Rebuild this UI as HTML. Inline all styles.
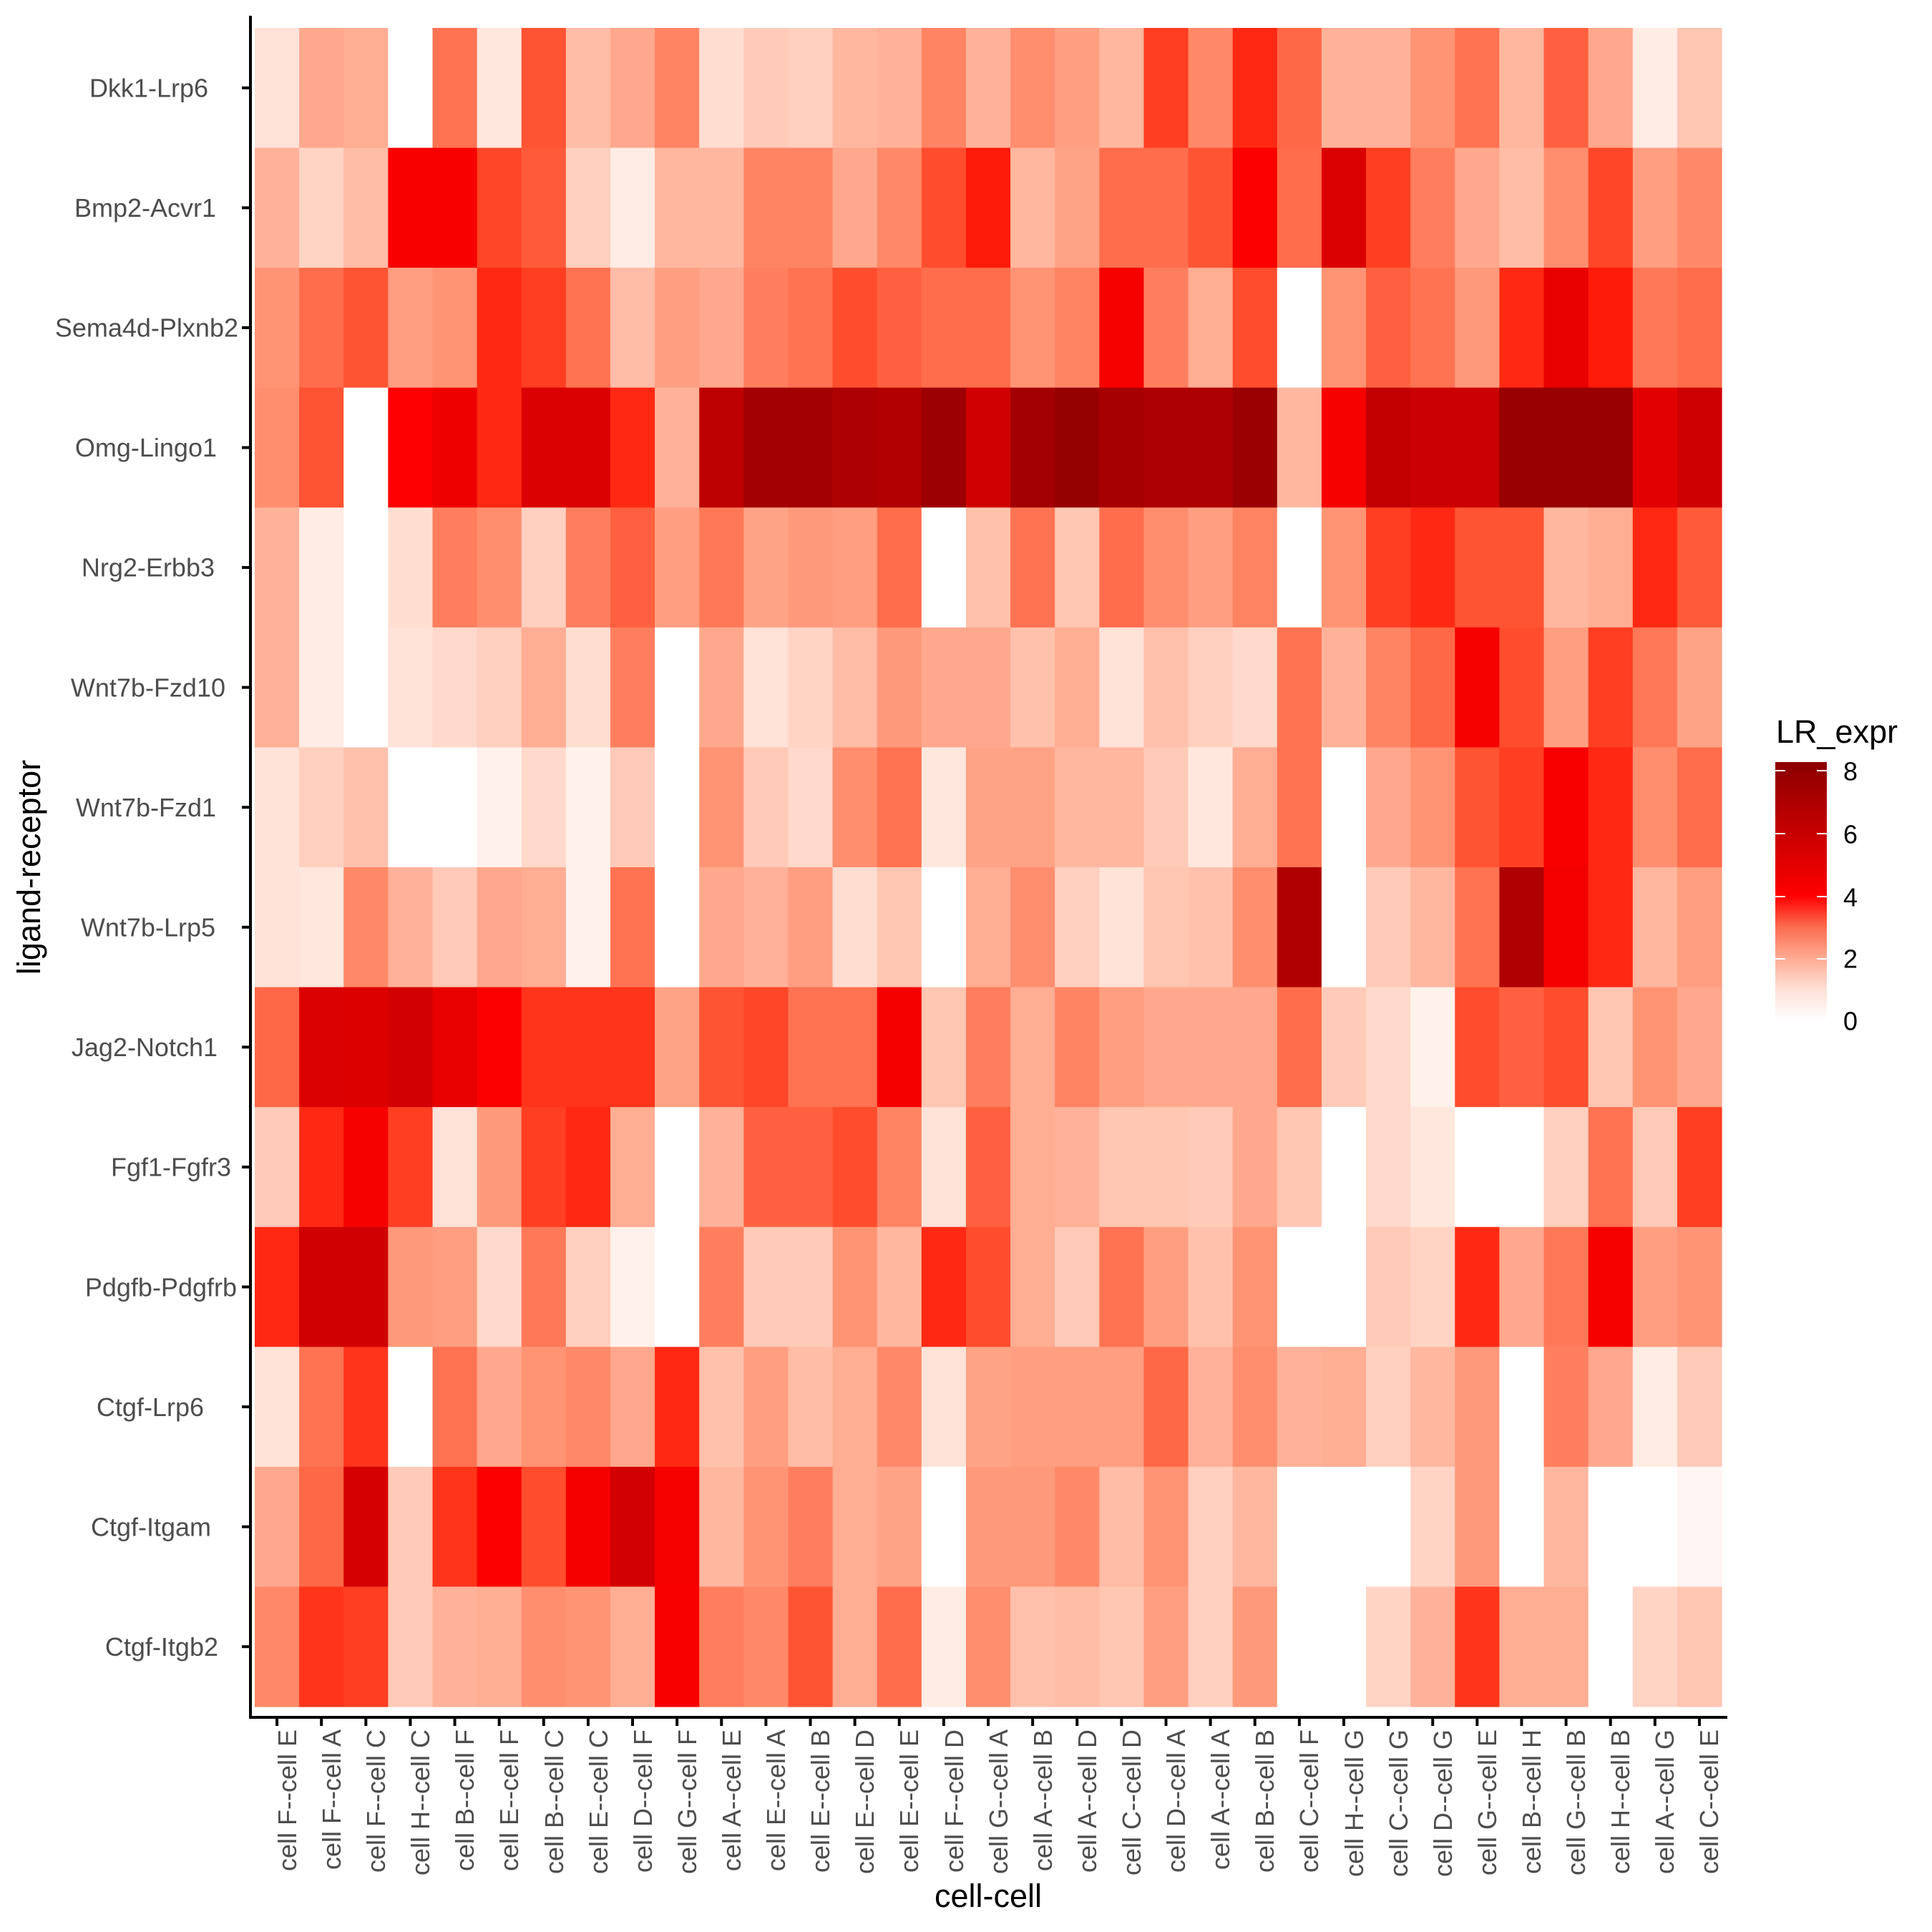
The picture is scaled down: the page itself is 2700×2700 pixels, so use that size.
<!DOCTYPE html>
<html><head><meta charset="utf-8">
<style>
html,body{margin:0;padding:0;background:#fff;}
svg{display:block;}
text{font-family:"Liberation Sans",Arial,sans-serif;}
.yl{font-size:36px;fill:#4d4d4d;text-anchor:end;dominant-baseline:central;}
.xl{font-size:36px;fill:#4d4d4d;text-anchor:end;}
</style></head><body>
<svg id="s" width="2700" height="2700" viewBox="0 0 2700 2700" xmlns="http://www.w3.org/2000/svg">
<defs>
<linearGradient id="lg" x1="0" y1="1" x2="0" y2="0">
<stop offset="0" stop-color="#ffffff"/>
<stop offset="0.12" stop-color="#fee0d6"/>
<stop offset="0.24" stop-color="#fdab92"/>
<stop offset="0.36" stop-color="#fc6d50"/>
<stop offset="0.482" stop-color="#ff0000"/>
<stop offset="0.74" stop-color="#c40000"/>
<stop offset="1" stop-color="#8b0000"/>
</linearGradient>
</defs>
<g id="tiles"></g>
<line x1="350" y1="22" x2="350" y2="2402" stroke="#000" stroke-width="4"/>
<line x1="348" y1="2400" x2="2414" y2="2400" stroke="#000" stroke-width="4"/>
<g id="ticks" stroke="#000" stroke-width="4"></g>
<text class="yl" x="291" y="122.8">Dkk1-Lrp6</text>
<text class="yl" x="302" y="290.4">Bmp2-Acvr1</text>
<text class="yl" x="333" y="458">Sema4d-Plxnb2</text>
<text class="yl" x="303" y="625.6">Omg-Lingo1</text>
<text class="yl" x="300" y="793.2">Nrg2-Erbb3</text>
<text class="yl" x="315" y="960.8">Wnt7b-Fzd10</text>
<text class="yl" x="302" y="1128.4">Wnt7b-Fzd1</text>
<text class="yl" x="301" y="1296">Wnt7b-Lrp5</text>
<text class="yl" x="304" y="1463.6">Jag2-Notch1</text>
<text class="yl" x="323" y="1631.2">Fgf1-Fgfr3</text>
<text class="yl" x="331" y="1798.8">Pdgfb-Pdgfrb</text>
<text class="yl" x="285" y="1966.4">Ctgf-Lrp6</text>
<text class="yl" x="295" y="2134">Ctgf-Itgam</text>
<text class="yl" x="305" y="2301.6">Ctgf-Itgb2</text>
<g id="xlabels">
<text class="xl" transform="translate(414,2417) rotate(-90)">cell F--cell E</text>
<text class="xl" transform="translate(476,2417) rotate(-90)">cell F--cell A</text>
<text class="xl" transform="translate(538,2417) rotate(-90)">cell F--cell C</text>
<text class="xl" transform="translate(600,2417) rotate(-90)">cell H--cell C</text>
<text class="xl" transform="translate(662,2417) rotate(-90)">cell B--cell F</text>
<text class="xl" transform="translate(724,2417) rotate(-90)">cell E--cell F</text>
<text class="xl" transform="translate(787,2417) rotate(-90)">cell B--cell C</text>
<text class="xl" transform="translate(849,2417) rotate(-90)">cell E--cell C</text>
<text class="xl" transform="translate(911,2417) rotate(-90)">cell D--cell F</text>
<text class="xl" transform="translate(973,2417) rotate(-90)">cell G--cell F</text>
<text class="xl" transform="translate(1035,2417) rotate(-90)">cell A--cell E</text>
<text class="xl" transform="translate(1097,2417) rotate(-90)">cell E--cell A</text>
<text class="xl" transform="translate(1159,2417) rotate(-90)">cell E--cell B</text>
<text class="xl" transform="translate(1221,2417) rotate(-90)">cell E--cell D</text>
<text class="xl" transform="translate(1283,2417) rotate(-90)">cell E--cell E</text>
<text class="xl" transform="translate(1346,2417) rotate(-90)">cell F--cell D</text>
<text class="xl" transform="translate(1408,2417) rotate(-90)">cell G--cell A</text>
<text class="xl" transform="translate(1470,2417) rotate(-90)">cell A--cell B</text>
<text class="xl" transform="translate(1532,2417) rotate(-90)">cell A--cell D</text>
<text class="xl" transform="translate(1594,2417) rotate(-90)">cell C--cell D</text>
<text class="xl" transform="translate(1656,2417) rotate(-90)">cell D--cell A</text>
<text class="xl" transform="translate(1718,2417) rotate(-90)">cell A--cell A</text>
<text class="xl" transform="translate(1780,2417) rotate(-90)">cell B--cell B</text>
<text class="xl" transform="translate(1842,2417) rotate(-90)">cell C--cell F</text>
<text class="xl" transform="translate(1905,2417) rotate(-90)">cell H--cell G</text>
<text class="xl" transform="translate(1967,2417) rotate(-90)">cell C--cell G</text>
<text class="xl" transform="translate(2029,2417) rotate(-90)">cell D--cell G</text>
<text class="xl" transform="translate(2091,2417) rotate(-90)">cell G--cell E</text>
<text class="xl" transform="translate(2153,2417) rotate(-90)">cell B--cell H</text>
<text class="xl" transform="translate(2215,2417) rotate(-90)">cell G--cell B</text>
<text class="xl" transform="translate(2277,2417) rotate(-90)">cell H--cell B</text>
<text class="xl" transform="translate(2339,2417) rotate(-90)">cell A--cell G</text>
<text class="xl" transform="translate(2401,2417) rotate(-90)">cell C--cell E</text>
</g>
<text x="1381" y="2665" font-size="45" text-anchor="middle" fill="#000">cell-cell</text>
<text transform="translate(56,1212) rotate(-90)" font-size="45" text-anchor="middle" fill="#000">ligand-receptor</text>
<text x="2482" y="1038" font-size="45" fill="#000">LR_expr</text>
<rect x="2481" y="1065" width="72" height="361" fill="url(#lg)"/>
<g stroke="#fff" stroke-width="2">
<line x1="2481" y1="1340" x2="2495" y2="1340"/><line x1="2539" y1="1340" x2="2553" y2="1340"/>
<line x1="2481" y1="1253" x2="2495" y2="1253"/><line x1="2539" y1="1253" x2="2553" y2="1253"/>
<line x1="2481" y1="1165" x2="2495" y2="1165"/><line x1="2539" y1="1165" x2="2553" y2="1165"/>
<line x1="2481" y1="1077" x2="2495" y2="1077"/><line x1="2539" y1="1077" x2="2553" y2="1077"/>
</g>
<g font-size="36" fill="#000" dominant-baseline="central">
<text x="2576" y="1078">8</text>
<text x="2576" y="1166">6</text>
<text x="2576" y="1254">4</text>
<text x="2576" y="1340">2</text>
<text x="2576" y="1427">0</text>
</g>
</svg>
<script>
var V=[
[0.6,1.8,1.7,0,2.8,0.5,3.3,1.4,1.8,2.5,0.7,1.1,1.0,1.5,1.6,2.5,1.6,2.3,2.0,1.5,3.6,2.4,3.8,3.0,1.6,1.6,2.2,2.8,1.5,3.1,1.8,0.4,1.2],
[1.6,0.9,1.4,4.2,4.2,3.5,3.2,1.0,0.4,1.5,1.5,2.5,2.5,1.8,2.4,3.4,3.9,1.5,1.9,2.9,2.9,3.3,4.1,2.9,5.3,3.6,2.6,1.8,1.4,2.3,3.5,2.0,2.4],
[2.2,2.9,3.3,2.0,2.2,3.8,3.6,2.8,1.4,2.0,1.8,2.6,2.8,3.4,3.1,2.9,2.9,2.2,2.5,4.3,2.6,1.7,3.4,0,2.2,3.1,2.8,2.1,3.8,4.8,3.9,2.7,2.9],
[2.3,3.3,0,4.0,4.6,3.8,5.3,5.3,3.8,1.6,6.4,7.4,7.4,7.0,6.8,7.6,5.7,7.4,7.9,7.2,7.0,7.0,7.7,1.5,4.3,6.2,5.9,5.9,7.8,7.8,7.8,5.0,5.8],
[1.6,0.4,0,0.7,2.6,2.3,1.0,2.6,3.1,2.0,2.7,1.9,2.1,2.0,2.9,0,1.3,2.8,1.2,2.9,2.3,2.0,2.5,0,2.2,3.6,3.8,3.3,3.3,1.5,1.7,3.8,3.2],
[1.6,0.4,0,0.6,0.8,1.0,1.7,0.7,2.6,0,1.8,0.6,0.9,1.4,2.1,1.8,1.8,1.3,1.7,0.6,1.3,1.0,0.8,2.8,1.6,2.5,3.0,4.3,3.4,2.0,3.6,2.7,1.9],
[0.6,1.0,1.3,0,0,0.3,0.8,0.3,1.1,0,2.2,1.1,0.8,2.3,2.8,0.5,1.9,1.9,1.5,1.5,1.1,0.5,1.7,2.8,0,1.8,2.2,3.3,3.6,4.2,3.8,2.3,2.9],
[0.6,0.5,2.4,1.6,1.1,1.8,1.7,0.3,2.8,0,1.8,1.6,2.0,0.7,1.2,0,1.7,2.3,1.0,0.6,1.2,1.3,2.3,6.9,0,1.1,1.5,2.8,6.9,4.4,3.8,1.5,2.0],
[3.0,5.3,5.2,5.6,4.8,4.1,3.7,3.7,3.7,1.9,3.3,3.5,2.8,2.8,4.4,1.2,2.6,1.7,2.5,2.0,1.8,1.8,1.8,2.9,1.1,0.8,0.3,3.4,3.1,3.4,1.2,2.2,1.8],
[1.1,3.8,4.3,3.6,0.6,2.1,3.6,3.8,1.7,0,1.6,3.1,3.1,3.4,2.5,0.6,3.1,1.7,1.6,1.2,1.2,1.1,1.8,1.2,0,0.8,0.5,0,0,1.0,2.8,1.1,3.6],
[3.8,5.7,5.7,2.1,2.0,0.8,2.7,1.0,0.3,0,2.6,1.1,1.1,2.2,1.5,3.8,3.4,1.7,1.1,2.8,2.0,1.3,2.2,0,0,1.1,0.9,3.8,1.8,2.7,4.3,2.0,2.2],
[0.6,2.8,3.7,0,2.8,1.8,2.2,2.4,1.8,3.8,1.3,2.0,1.4,1.7,2.4,0.6,1.9,2.0,2.0,2.0,3.0,1.6,2.3,1.6,1.7,1.0,1.5,2.1,0,2.6,1.8,0.4,1.1],
[1.8,3.0,5.5,1.1,3.7,4.1,3.4,4.4,5.6,4.3,1.5,2.2,2.6,1.7,1.9,0,2.1,2.1,2.4,1.4,2.2,1.0,1.5,0,0,0,0.9,2.1,0,1.5,0,0,0.2],
[2.4,3.7,3.6,1.1,1.6,1.7,2.3,2.2,1.7,4.2,2.6,2.4,3.3,1.7,2.9,0.4,2.3,1.3,1.4,1.2,2.0,1.0,2.1,0,0,0.9,1.6,3.7,1.7,1.7,0,0.9,1.2]];
function toLin(c){c/=255;return c<=0.04045?c/12.92:Math.pow((c+0.055)/1.055,2.4);}
function fromLin(c){c=c<=0.0031308?12.92*c:1.055*Math.pow(c,1/2.4)-0.055;return Math.max(0,Math.min(255,Math.round(c*255)));}
var Xn=0.95047,Yn=1,Zn=1.08883;
function f(t){return t>0.008856?Math.cbrt(t):7.787*t+16/116;}
function fi(t){return t>0.206893?t*t*t:(t-16/116)/7.787;}
function lab(r,g,b){r=toLin(r);g=toLin(g);b=toLin(b);
var X=(r*0.4124+g*0.3576+b*0.1805)/Xn,Y=(r*0.2126+g*0.7152+b*0.0722)/Yn,Z=(r*0.0193+g*0.1192+b*0.9505)/Zn;
var fx=f(X),fy=f(Y),fz=f(Z);return [116*fy-16,500*(fx-fy),200*(fy-fz)];}
function rgb(L){var fy=(L[0]+16)/116,fx=fy+L[1]/500,fz=fy-L[2]/200;
var X=fi(fx)*Xn,Y=fi(fy)*Yn,Z=fi(fz)*Zn;
var r=X*3.2406+Y*-1.5372+Z*-0.4986,g=X*-0.9689+Y*1.8758+Z*0.0415,b=X*0.0557+Y*-0.2040+Z*1.0570;
return 'rgb('+fromLin(r)+','+fromLin(g)+','+fromLin(b)+')';}
var W=lab(255,255,255),R=lab(255,0,0),D=lab(139,0,0);
function col(v){if(v<=0)return '#ffffff';var a,b,t;
if(v<4){a=W;b=R;t=v/4;}else{a=R;b=D;t=Math.min(1,(v-4)/4.3);}
return rgb([a[0]+(b[0]-a[0])*t,a[1]+(b[1]-a[1])*t,a[2]+(b[2]-a[2])*t]);}
var NS='http://www.w3.org/2000/svg',g=document.getElementById('tiles'),tk=document.getElementById('ticks');
var x0=356,cw=(2406-356)/33,y0=39,rh=(2385-39)/14;
for(var i=0;i<14;i++)for(var j=0;j<33;j++){var r=document.createElementNS(NS,'rect');
r.setAttribute('x',(x0+j*cw).toFixed(2));r.setAttribute('y',(y0+i*rh).toFixed(2));
r.setAttribute('width',(cw+0.6).toFixed(2));r.setAttribute('height',(rh+0.6).toFixed(2));
r.setAttribute('fill',col(V[i][j]));g.appendChild(r);}
for(var i=0;i<14;i++){var l=document.createElementNS(NS,'line');var y=y0+(i+0.5)*rh;
l.setAttribute('x1',338);l.setAttribute('x2',350);l.setAttribute('y1',y);l.setAttribute('y2',y);tk.appendChild(l);}
for(var j=0;j<33;j++){var l=document.createElementNS(NS,'line');var x=x0+(j+0.5)*cw;
l.setAttribute('x1',x);l.setAttribute('x2',x);l.setAttribute('y1',2400);l.setAttribute('y2',2412);tk.appendChild(l);}
</script>
</body></html>
